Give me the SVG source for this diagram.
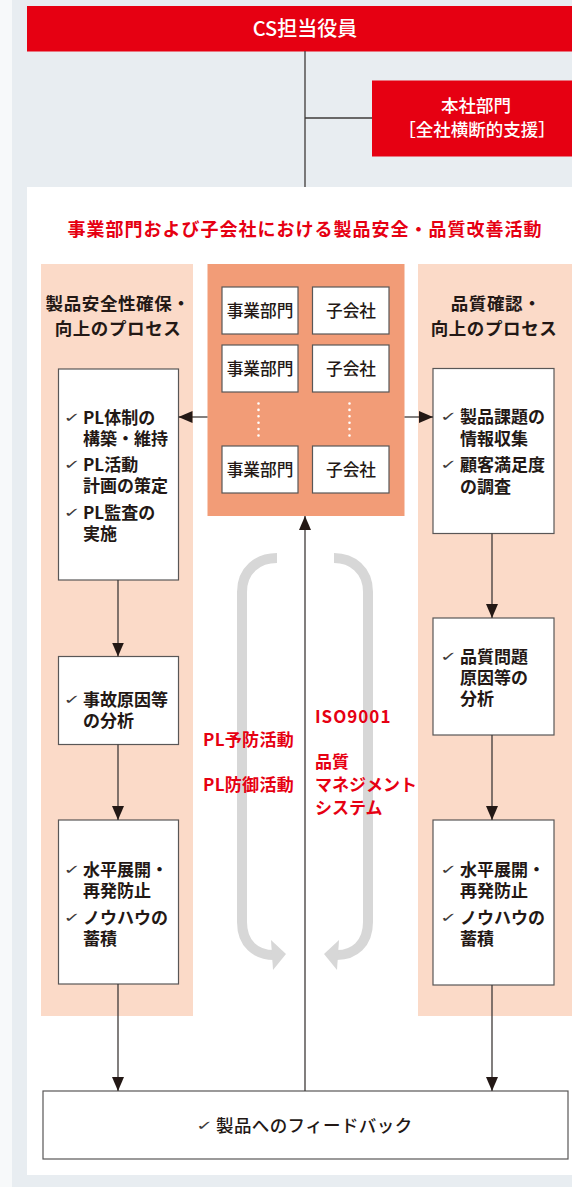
<svg xmlns="http://www.w3.org/2000/svg" width="572" height="1187" viewBox="0 0 572 1187">
<style>
.jp{font-family:'Noto Sans CJK JP','Noto Sans',sans-serif}
.box{fill:#fff;stroke:#595757;stroke-width:1.2}
.cell{fill:#fff;stroke:#595757;stroke-width:1.2}
.bt{font-size:17px;font-weight:bold;fill:#231815}
.ck{font-family:'DejaVu Sans',sans-serif;font-size:24px;fill:#3e3a39}
.hd{font-size:17.5px;font-weight:bold;fill:#231815;text-anchor:middle}
.ct{font-size:16.7px;font-weight:500;fill:#231815;text-anchor:middle}
.red{fill:#e60012;font-weight:bold;font-size:17px}
.ln{stroke:#3e3a39;stroke-width:1.3;fill:none}
.ga{stroke:#d7d7d7;stroke-width:10;fill:none}
</style>
<defs>
<marker id="ah" markerUnits="userSpaceOnUse" markerWidth="14" markerHeight="12" refX="14" refY="6" orient="auto">
<path d="M0,0 L14,6 L0,12 z" fill="#231815"/>
</marker>
</defs>
<rect x="0" y="0" width="572" height="1187" fill="#f7f9fa"/>
<rect x="12" y="0" width="560" height="1187" fill="#e8edf1"/>
<rect x="27" y="187" width="545" height="988" fill="#fff"/>

<g id="cs">
<rect x="27" y="6" width="545" height="45.5" fill="#e60012"/>
<text class="jp" x="305" y="36" font-size="20" font-weight="500" fill="#fff" text-anchor="middle">CS担当役員</text>
</g>
<g id="honsha">
<rect x="372" y="80.5" width="200" height="76" fill="#e60012"/>
<text class="jp" x="476" y="112" font-size="17.5" font-weight="500" fill="#fff" text-anchor="middle">本社部門<tspan x="477" dy="24">［全社横断的支援］</tspan></text>
</g>

<g id="title">
<text class="jp" x="305" y="236" font-size="18" font-weight="bold" fill="#e60012" text-anchor="middle" letter-spacing="1">事業部門および子会社における製品安全・品質改善活動</text>
</g>

<rect x="41" y="264" width="152" height="752" fill="#fbdac8"/>
<rect x="418" y="264" width="154" height="752" fill="#fbdac8"/>

<g id="left-header">
<text class="jp hd" x="118" y="310" letter-spacing="0.6">製品安全性確保・<tspan x="118" dy="25">向上のプロセス</tspan></text>
</g>
<g id="right-header">
<text class="jp hd" x="496" y="310" letter-spacing="0.6">品質確認・<tspan x="494" dy="25">向上のプロセス</tspan></text>
</g>

<g id="org">
<rect x="207.5" y="264" width="197" height="252" fill="#f29c77"/>
<rect class="cell" x="222" y="287" width="76" height="47"/>
<rect class="cell" x="312.5" y="287" width="76.5" height="47"/>
<rect class="cell" x="222" y="345" width="76" height="47"/>
<rect class="cell" x="312.5" y="345" width="76.5" height="47"/>
<rect class="cell" x="222" y="446" width="76" height="47"/>
<rect class="cell" x="312.5" y="446" width="76.5" height="47"/>
<text class="jp ct" x="260" y="316.5">事業部門</text>
<text class="jp ct" x="351" y="316.5">子会社</text>
<text class="jp ct" x="260" y="374.5">事業部門</text>
<text class="jp ct" x="351" y="374.5">子会社</text>
<text class="jp ct" x="260" y="475.5">事業部門</text>
<text class="jp ct" x="351" y="475.5">子会社</text>
<line x1="258.5" y1="403.5" x2="258.5" y2="436" stroke="#fff" stroke-width="2.6" stroke-linecap="round" stroke-dasharray="0 6.4"/>
<line x1="349.5" y1="403.5" x2="349.5" y2="436" stroke="#fff" stroke-width="2.6" stroke-linecap="round" stroke-dasharray="0 6.4"/>
</g>

<g id="l1">
<rect class="box" x="58.5" y="369" width="120" height="211"/>
<text class="ck" transform="translate(63.5,421.5) scale(0.85,0.55)">✓</text>
<text class="ck" transform="translate(63.5,468.5) scale(0.85,0.55)">✓</text>
<text class="ck" transform="translate(63.5,516.5) scale(0.85,0.55)">✓</text>
<text class="jp bt" x="83" y="424">PL体制の<tspan x="83" dy="20.5">構築・維持</tspan><tspan x="83" dy="26.5">PL活動</tspan><tspan x="83" dy="20.5">計画の策定</tspan><tspan x="83" dy="27.5">PL監査の</tspan><tspan x="83" dy="20.5">実施</tspan></text>
</g>
<g id="l2">
<rect class="box" x="58.5" y="656.5" width="120" height="88"/>
<text class="ck" transform="translate(63.5,703.5) scale(0.85,0.55)">✓</text>
<text class="jp bt" x="83" y="706">事故原因等<tspan x="83" dy="20.5">の分析</tspan></text>
</g>
<g id="l3">
<rect class="box" x="58.5" y="820" width="120" height="164"/>
<text class="ck" transform="translate(63.5,873.5) scale(0.85,0.55)">✓</text>
<text class="ck" transform="translate(63.5,921.5) scale(0.85,0.55)">✓</text>
<text class="jp bt" x="83" y="876">水平展開・<tspan x="83" dy="20.5">再発防止</tspan><tspan x="83" dy="27.5">ノウハウの</tspan><tspan x="83" dy="20.5">蓄積</tspan></text>
</g>

<g id="r1">
<rect class="box" x="433" y="368.5" width="121" height="165"/>
<text class="ck" transform="translate(440,420.5) scale(0.85,0.55)">✓</text>
<text class="ck" transform="translate(440,468.5) scale(0.85,0.55)">✓</text>
<text class="jp bt" x="460" y="423">製品課題の<tspan x="460" dy="22">情報収集</tspan><tspan x="460" dy="26">顧客満足度</tspan><tspan x="460" dy="22">の調査</tspan></text>
</g>
<g id="r2">
<rect class="box" x="433" y="618" width="121" height="117"/>
<text class="ck" transform="translate(440,660.5) scale(0.85,0.55)">✓</text>
<text class="jp bt" x="460" y="663">品質問題<tspan x="460" dy="21">原因等の</tspan><tspan x="460" dy="21">分析</tspan></text>
</g>
<g id="r3">
<rect class="box" x="433" y="820" width="121" height="165"/>
<text class="ck" transform="translate(440,873.5) scale(0.85,0.55)">✓</text>
<text class="ck" transform="translate(440,921.5) scale(0.85,0.55)">✓</text>
<text class="jp bt" x="460" y="876">水平展開・<tspan x="460" dy="20.5">再発防止</tspan><tspan x="460" dy="27.5">ノウハウの</tspan><tspan x="460" dy="20.5">蓄積</tspan></text>
</g>

<g id="feedback">
<rect class="box" x="43" y="1091" width="525" height="68"/>
<text class="ck" transform="translate(196,1129.5) scale(0.85,0.55)">✓</text>
<text class="jp" x="216" y="1132" font-size="17.5" font-weight="500" fill="#231815" letter-spacing="0.4">製品へのフィードバック</text>
</g>

<g id="gray-arrows">
<path class="ga" d="M277,558 C258,558 242,570 242,592 V922 C242,944 256,955 274,955"/>
<polygon points="271,940 286,954 273,970" fill="#d7d7d7"/>
<path class="ga" d="M334,558 C352,558 368,570 368,592 V922 C368,944 354,955 337,955"/>
<polygon points="339,940 324,954 337,970" fill="#d7d7d7"/>
</g>

<g id="labels">
<text class="jp red" x="294" y="746" text-anchor="end" letter-spacing="0.3">PL予防活動<tspan x="294" dy="45">PL防御活動</tspan></text>
<text class="jp red" x="315" y="723" letter-spacing="1">ISO9001</text>
<text class="jp red" x="315" y="768">品質<tspan x="315" dy="23">マネジメント</tspan><tspan x="315" dy="23">システム</tspan></text>
</g>

<g id="connectors">
<line class="ln" x1="305" y1="51" x2="305" y2="187"/>
<line class="ln" x1="305" y1="118" x2="372" y2="118"/>
<line class="ln" x1="207.5" y1="417" x2="178.5" y2="417" marker-end="url(#ah)"/>
<line class="ln" x1="404.5" y1="417" x2="433" y2="417" marker-end="url(#ah)"/>
<line class="ln" x1="305" y1="1091" x2="305" y2="516" marker-end="url(#ah)"/>
<line class="ln" x1="118" y1="580" x2="118" y2="656.5" marker-end="url(#ah)"/>
<line class="ln" x1="118" y1="744.5" x2="118" y2="820" marker-end="url(#ah)"/>
<line class="ln" x1="118" y1="984" x2="118" y2="1091" marker-end="url(#ah)"/>
<line class="ln" x1="492" y1="533.5" x2="492" y2="618" marker-end="url(#ah)"/>
<line class="ln" x1="492" y1="735" x2="492" y2="820" marker-end="url(#ah)"/>
<line class="ln" x1="492" y1="985" x2="492" y2="1091" marker-end="url(#ah)"/>
</g>
</svg>
